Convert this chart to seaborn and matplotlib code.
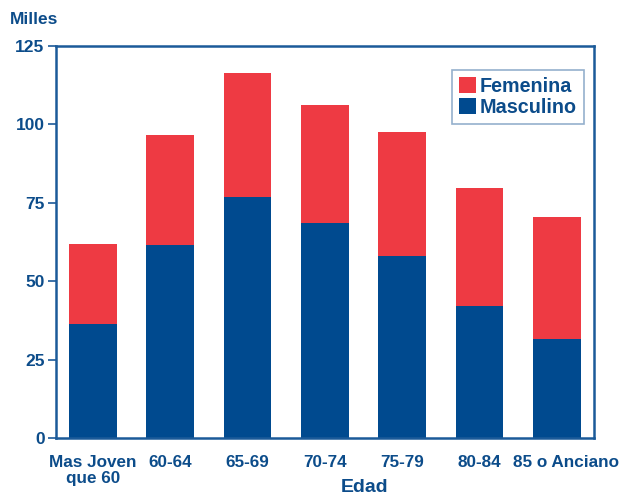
import matplotlib
matplotlib.use("Agg")
import matplotlib.pyplot as plt
import matplotlib.transforms as mtransforms
from matplotlib.patches import Patch
import seaborn as sns
import pandas as pd

# Population by age group, in thousands
edades = ["Mas Joven\nque 60", "60-64", "65-69", "70-74", "75-79", "80-84", "85 o Anciano"]
masculino = [36.5, 61.5, 77.0, 68.5, 58.0, 42.0, 31.5]
femenina = [25.5, 35.2, 39.5, 37.8, 39.6, 37.7, 39.0]
y_ticks = [0, 25, 50, 75, 100, 125]

AZUL = "#004a8f"
ROJO = "#ee3a43"
TEXTO = "#0c4c8a"
MARCO = "#1b5a99"

sns.set_theme(style="white")
plt.rcParams["font.family"] = ["Liberation Sans", "DejaVu Sans"]
plt.rcParams["font.weight"] = "bold"

df = pd.DataFrame({
    "edad": edades,
    "masculino": masculino,
    "total": [m + f for m, f in zip(masculino, femenina)],
})

fig = plt.figure(figsize=(6.21, 4.94), dpi=100)
ax = fig.add_axes([0.0897, 0.1134, 0.8668, 0.7935])

# stacked bars: full height in red, male share drawn over it in blue
sns.barplot(data=df, x="edad", y="total", color=ROJO, saturation=1,
            width=0.62, ax=ax, edgecolor="none", linewidth=0)
sns.barplot(data=df, x="edad", y="masculino", color=AZUL, saturation=1,
            width=0.62, ax=ax, edgecolor="none", linewidth=0)

ax.set_xlim(-0.48, 6.48)
ax.set_ylim(0, 125)
ax.set_yticks(y_ticks)
ax.set_yticklabels([str(v) for v in y_ticks], fontsize=12.5, fontweight="bold", color=TEXTO)

# category labels sit under the bars, tick marks fall between them
ax.set_xticks(range(len(edades)))
ax.set_xticklabels(edades, fontsize=12.3, fontweight="bold", color=TEXTO, linespacing=1.1)
ax.tick_params(axis="x", length=0, pad=12)
ax.set_xticks([-0.48, 0.5, 1.5, 2.5, 3.5, 4.5, 5.5, 6.31], minor=True)
ax.tick_params(axis="x", which="minor", length=5, width=1.2, color=MARCO, direction="out")
ax.tick_params(axis="y", length=6, width=1.2, color=MARCO, direction="out", pad=2, left=True)

# nudge the widest label right so it clears its neighbour
last = ax.get_xticklabels()[-1]
last.set_transform(last.get_transform() +
                   mtransforms.ScaledTranslation(9 / 100, 0, fig.dpi_scale_trans))

for s in ax.spines.values():
    s.set_visible(True)
    s.set_color(MARCO)
    s.set_linewidth(1.8)

ax.set_xlabel("")
ax.set_ylabel("")
fig.text(365 / 621, 1 - 487 / 494, "Edad", fontsize=14, fontweight="bold",
         color=TEXTO, ha="center", va="center")
fig.text(10 / 621, 1 - 20 / 494, "Milles", fontsize=12.5, fontweight="bold",
         color=TEXTO, ha="left", va="center")

handles = [Patch(facecolor=ROJO, edgecolor="none", label="Femenina"),
           Patch(facecolor=AZUL, edgecolor="none", label="Masculino")]
leg = ax.legend(handles=handles, loc="upper right", bbox_to_anchor=(0.981, 0.939),
                borderaxespad=0, frameon=True, fancybox=False,
                handlelength=0.85, handleheight=0.85, handletextpad=0.2,
                labelspacing=0.1, borderpad=0.35,
                prop={"family": "Liberation Sans", "weight": "bold", "size": 14.2})
leg.get_frame().set_edgecolor("#7a9cc0")
leg.get_frame().set_linewidth(1.2)
for t in leg.get_texts():
    t.set_color(TEXTO)

fig.savefig("out.png", dpi=100)
